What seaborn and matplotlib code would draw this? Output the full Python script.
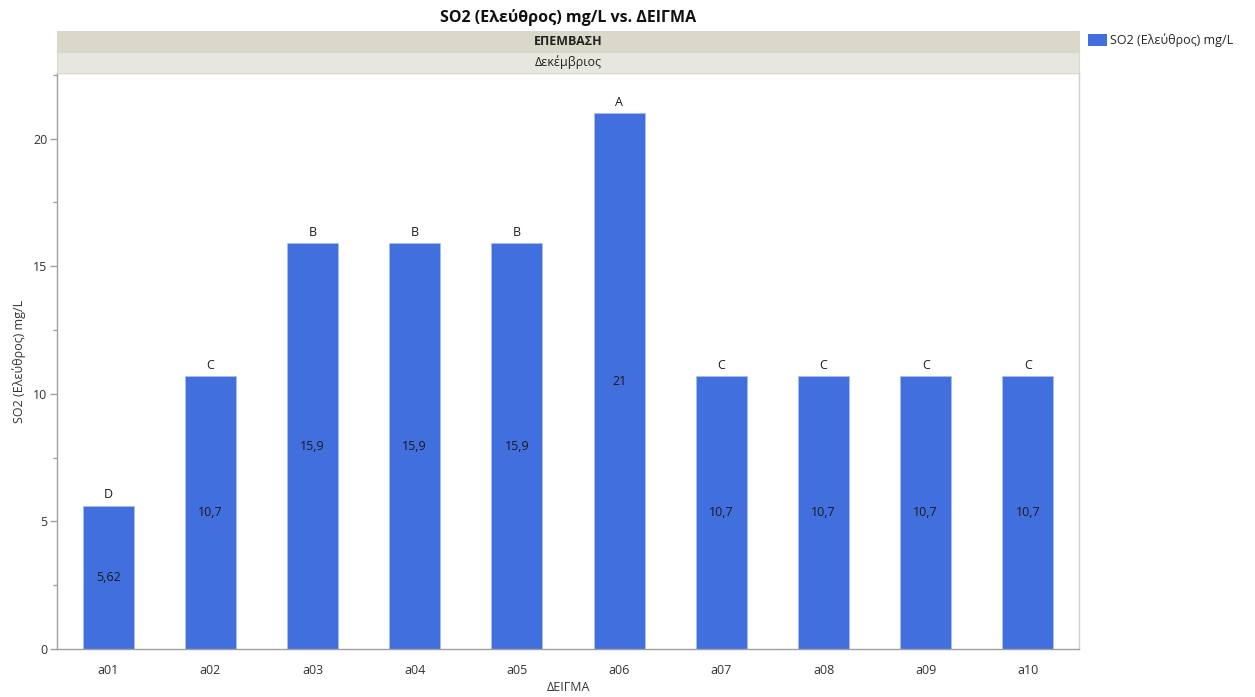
import matplotlib
matplotlib.use("Agg")
import matplotlib.pyplot as plt
from matplotlib.patches import Patch
from matplotlib.ticker import MultipleLocator
import seaborn as sns
import pandas as pd

# Sample data
samples = ["a01", "a02", "a03", "a04", "a05", "a06", "a07", "a08", "a09", "a10"]
so2_free = [5.62, 10.7, 15.9, 15.9, 15.9, 21, 10.7, 10.7, 10.7, 10.7]
groups = ["D", "C", "B", "B", "B", "A", "C", "C", "C", "C"]
series_name = "SO2 (Ελεύθρος) mg/L"
title = "SO2 (Ελεύθρος) mg/L vs. ΔΕΙΓΜΑ"
strip_outer = "ΕΠΕΜΒΑΣΗ"
strip_inner = "Δεκέμβριος"
x_title = "ΔΕΙΓΜΑ"

df = pd.DataFrame({"ΔΕΙΓΜΑ": samples, series_name: so2_free, "group": groups})

sns.set_theme(style="white")
plt.rcParams["font.family"] = ["Open Sans", "DejaVu Sans"]

bar_color = "#4170de"
W, H = 1255, 697
fig = plt.figure(figsize=(W / 100, H / 100), dpi=100)

# main plot area (pixel geometry converted to figure fractions)
left, right, top, bottom = 57, 1079, 73, 649
ax = fig.add_axes([left / W, 1 - bottom / H, (right - left) / W, (bottom - top) / H])

sns.barplot(data=df, x="ΔΕΙΓΜΑ", y=series_name, color=bar_color, width=0.5,
            saturation=1, ax=ax, errorbar=None, edgecolor="#a9bdf0", linewidth=0.6)

ax.set_ylim(0, 22.57)
ax.set_xlim(-0.5, len(samples) - 0.5)
ax.yaxis.set_major_locator(MultipleLocator(5))
ax.yaxis.set_minor_locator(MultipleLocator(2.5))
ax.tick_params(axis="y", which="major", left=True, length=5, width=1, color="#a0a0a0",
               labelsize=9, labelcolor="#333333", pad=2)
ax.tick_params(axis="y", which="minor", left=True, length=3, width=1, color="#a0a0a0")
ax.tick_params(axis="x", bottom=False, labelsize=9, labelcolor="#333333", pad=5)

for side in ["left", "bottom"]:
    ax.spines[side].set_color("#a0a0a0")
    ax.spines[side].set_linewidth(1)
for side in ["right", "top"]:
    ax.spines[side].set_color("#cfcfcf")
    ax.spines[side].set_linewidth(1)

ax.set_ylabel(series_name, fontsize=9, color="#333333", labelpad=5)
ax.set_xlabel(x_title, fontsize=9, color="#333333", labelpad=3)

# value labels in the middle of each bar, group letters above
for i, (v, g) in enumerate(zip(so2_free, groups)):
    txt = f"{v:g}".replace(".", ",")
    ax.text(i, v / 2, txt, ha="center", va="center", fontsize=9, color="#1a1a1a")
    ax.annotate(g, (i, v), xytext=(0, 3), textcoords="offset points",
                ha="center", va="bottom", fontsize=9, color="#1a1a1a")

# facet strips above the plot
strip1 = fig.add_axes([left / W, 1 - 52 / H, (right - left) / W, 21 / H])
strip1.set_facecolor("#dad9c9")
strip2 = fig.add_axes([left / W, 1 - 73 / H, (right - left) / W, 21 / H])
strip2.set_facecolor("#e7e7df")
for s, label, weight in [(strip1, strip_outer, "bold"), (strip2, strip_inner, "normal")]:
    s.set_xticks([])
    s.set_yticks([])
    for sp in s.spines.values():
        sp.set_color("#d8d8cc")
        sp.set_linewidth(0.8)
    s.text(0.5, 0.5, label, ha="center", va="center", fontsize=9,
           fontweight=weight, color="#222222", transform=s.transAxes)

fig.text((left + right) / 2 / W, 1 - 18 / H, title, ha="center", va="center",
         fontsize=11.5, fontweight="bold", color="#111111")

handles = [Patch(facecolor=bar_color, edgecolor="none", label=series_name)]
fig.legend(handles=handles, loc="upper left", bbox_to_anchor=(1083 / W, 1 - 28 / H),
           frameon=False, fontsize=9, handlelength=1.5, handleheight=1.1,
           handletextpad=0.3, borderaxespad=0)

fig.savefig("out.png", dpi=100)
